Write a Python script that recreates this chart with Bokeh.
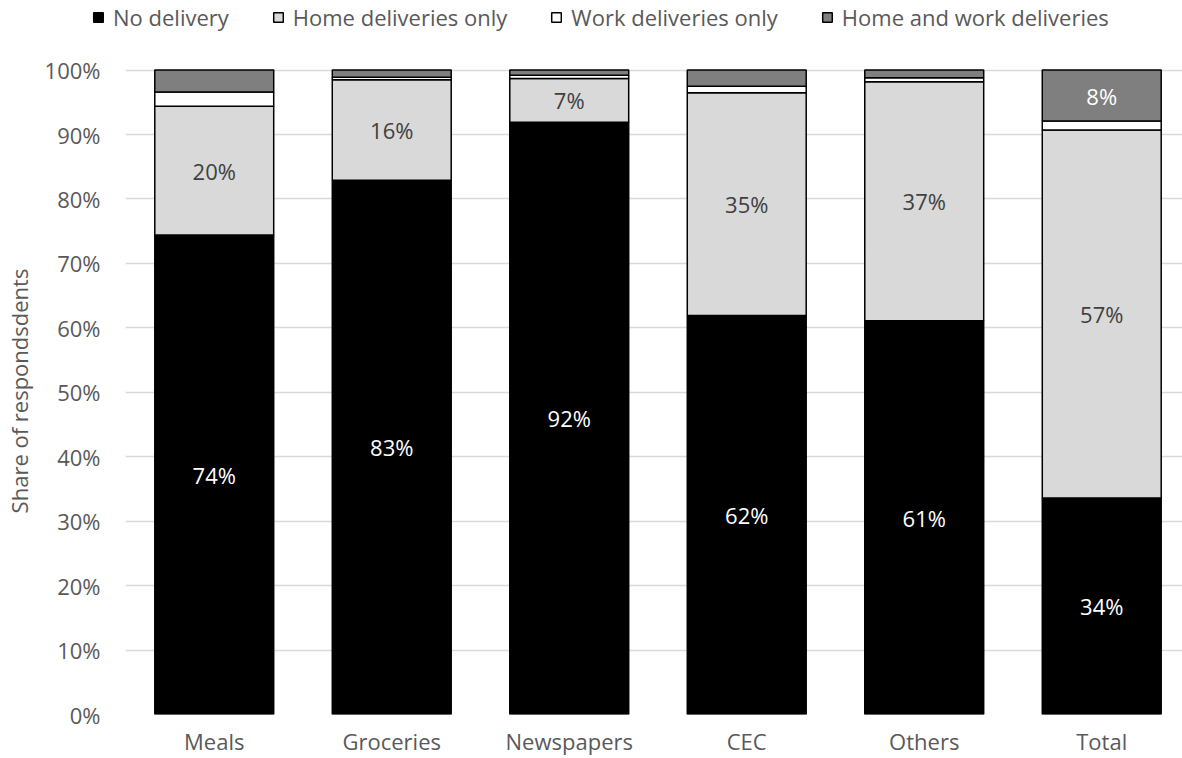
from bokeh.plotting import figure
from bokeh.models import (ColumnDataSource, Range1d, NumeralTickFormatter, FixedTicker,
                          Legend, LegendItem, LabelSet)
from bokeh.core.properties import value
from bokeh.embed import file_html
from bokeh.resources import INLINE

# Share of respondents (%) by delivery type, per product category
categories = ["Meals", "Groceries", "Newspapers", "CEC", "Others", "Total"]
no_delivery = [74.4, 82.9, 91.9, 61.9, 61.1, 33.6]
home_only = [20.0, 15.6, 6.8, 34.6, 37.1, 57.1]
work_only = [2.2, 0.4, 0.5, 1.0, 0.6, 1.4]
home_and_work = [3.4, 1.1, 0.8, 2.5, 1.2, 7.9]

series_names = ["No delivery", "Home deliveries only", "Work deliveries only", "Home and work deliveries"]
series_values = [no_delivery, home_only, work_only, home_and_work]
fill_colors = ["#000000", "#d9d9d9", "#ffffff", "#7f7f7f"]
label_colors = ["#ffffff", "#404040", "#404040", "#ffffff"]

FONT = "Open Sans"
TEXT_GREY = "#595959"
FS = "22px"
LEGEND_H = 34

xs = [i + 0.5 for i in range(len(categories))]

p = figure(width=1182, height=758 - LEGEND_H, output_backend="svg", toolbar_location=None,
           x_range=Range1d(0, 5.955), y_range=Range1d(0, 1.004),
           min_border_left=125, min_border_right=0, min_border_top=67 - LEGEND_H,
           min_border_bottom=44)
p.outline_line_color = None
p.xgrid.grid_line_color = None
p.ygrid.grid_line_color = "#d9d9d9"
p.ygrid.grid_line_width = 1.5

# stacked segments
bottoms = [0.0] * len(categories)
lab_x, lab_y, lab_text, lab_color = [], [], [], []
for name, vals, fc, lc in zip(series_names, series_values, fill_colors, label_colors):
    fr = [v / 100 for v in vals]
    tops = [b + f for b, f in zip(bottoms, fr)]
    src = ColumnDataSource(dict(x=xs, bottom=bottoms, top=tops))
    p.vbar(x="x", bottom="bottom", top="top", width=0.67, source=src,
           fill_color=fc, line_color="black", line_width=1.5)
    for x, b, t, v in zip(xs, bottoms, tops, vals):
        if v >= 5:
            lab_x.append(x)
            lab_y.append((b + t) / 2)
            lab_text.append(f"{round(v)}%")
            lab_color.append(lc)
    bottoms = tops

lab_src = ColumnDataSource(dict(x=lab_x, y=lab_y, text=lab_text, color=lab_color))
labels = LabelSet(x="x", y="y", text="text", source=lab_src, text_color="color",
                  text_align="center", text_baseline="middle",
                  text_font=value(FONT), text_font_size=FS)
p.add_layout(labels)

# axes
p.xaxis.ticker = FixedTicker(ticks=xs)
p.xaxis.major_label_overrides = {x: c for x, c in zip(xs, categories)}
p.yaxis.ticker = FixedTicker(ticks=[i / 10 for i in range(11)])
p.yaxis.formatter = NumeralTickFormatter(format="0%")
for ax in (p.xaxis[0], p.yaxis[0]):
    ax.axis_line_color = None
    ax.major_tick_line_color = None
    ax.minor_tick_line_color = None
    ax.major_label_text_font = FONT
    ax.major_label_text_font_size = FS
    ax.major_label_text_color = TEXT_GREY
p.xaxis.major_label_standoff = 5
p.yaxis.major_label_standoff = 19
p.yaxis.axis_label = "Share of respondsdents"
p.yaxis.axis_label_text_font = FONT
p.yaxis.axis_label_text_font_size = FS
p.yaxis.axis_label_text_font_style = "normal"
p.yaxis.axis_label_text_color = TEXT_GREY
p.yaxis.axis_label_standoff = 8

# legend strip across the top (its own root, so its frame spans the full width)
lg = figure(width=1182, height=LEGEND_H, output_backend="svg", toolbar_location=None,
            x_range=Range1d(0, 1), y_range=Range1d(0, 1),
            x_axis_location=None, y_axis_location=None,
            min_border_left=0, min_border_right=0, min_border_top=0, min_border_bottom=0)
lg.outline_line_color = None
lg.grid.grid_line_color = None
nan = float("nan")
items = []
for name, fc in zip(series_names, fill_colors):
    # swatch-only renderer: no drawable extent, only its fill/line styling
    r = lg.vbar(x=[0.5], bottom=[nan], top=[nan], width=0.1,
                fill_color=fc, line_color="black", line_width=1.5)
    items.append(LegendItem(label=name, renderers=[r]))
legend = Legend(items=items, orientation="horizontal", location=(92, 2),
                glyph_width=12, glyph_height=12, label_standoff=9, spacing=43,
                padding=0, margin=0, border_line_color=None, background_fill_alpha=0,
                label_text_font=FONT, label_text_font_size=FS, label_text_color=TEXT_GREY)
lg.add_layout(legend)

open("out.html", "w").write(file_html([lg, p], INLINE))
